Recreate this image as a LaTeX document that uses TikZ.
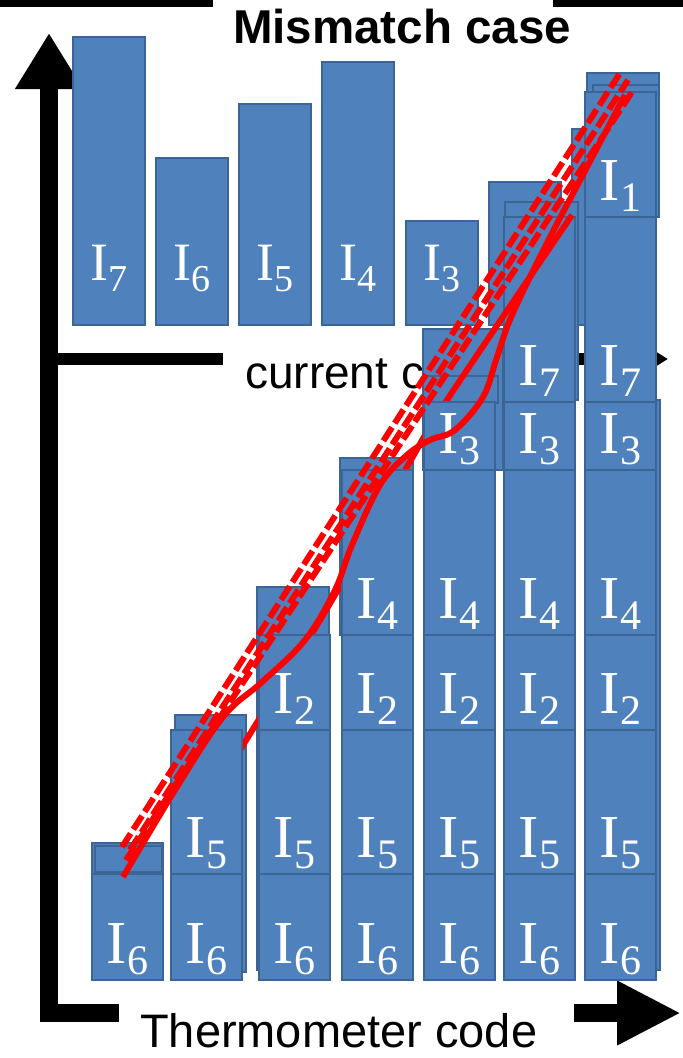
\documentclass[tikz,border=0pt]{standalone}
\usepackage{fontspec}
\setmainfont{Liberation Serif}
\setsansfont{Liberation Sans}
\usetikzlibrary{arrows.meta}
\definecolor{barfill}{HTML}{4F81BD}
\definecolor{barline}{HTML}{3A6595}
\definecolor{trace}{HTML}{FF0000}
\newcommand{\lowI}[1]{I\raisebox{-11pt}{\fontsize{42}{42}\selectfont #1}}
\newcommand{\upI}[1]{I\raisebox{-11pt}{\fontsize{38}{38}\selectfont #1}}
% one thermometer column: #1 column no., #2 left edge, #3 number of cells
\newcommand{\thermo}[3]{%
  \foreach \k/\i/\yt/\yb in {1/6/874/980,2/5/730/874,3/2/635/730,4/4/470/635,5/3/402/470,6/7/217/402,7/1/92/217}{%
    \ifnum\k>#3\relax\else
      \draw[bar] (#2,\yt) rectangle ({#2+71},\yb);
      \node[lowlbl] (t#1-\i) at ({#2+35.5},{\yb-17}) {\lowI{\i}};
    \fi}}
\tikzset{
  bar/.style={draw=barline, fill=barfill, line width=1.2pt},
  lowlbl/.style={text=white, anchor=base, inner sep=0pt, font=\fontsize{61}{61}\selectfont},
  uplbl/.style={text=white, anchor=base, inner sep=0pt, font=\fontsize{54}{54}\selectfont},
  axisline/.style={line width=18pt, draw=black},
  axlbl/.style={font=\sffamily\fontsize{46}{46}\selectfont, anchor=base west, inner sep=0pt},
  trace/.style={draw=trace, line width=6pt},
  tracedash/.style={trace, line width=6pt, dash pattern=on 16pt off 5pt},
}
\begin{document}
\begin{tikzpicture}[x=1pt,y=-1pt]
  \useasboundingbox (0,0) rectangle (683,1058);
  % frame remnants along the top edge
  \draw[line width=7pt] (0,3.5) -- (213,3.5);
  \draw[line width=7pt] (553,3.5) -- (683,3.5);
  \node[font=\sffamily\bfseries\fontsize{47.5}{50}\selectfont, anchor=base, inner sep=0pt] (title) at (402,43) {Mismatch case};

  % axes
  \coordinate (ytip) at (49,33);
  \coordinate (origin) at (49,1013);
  \coordinate (xgapl) at (119,1013);
  \coordinate (xgapr) at (574,1013);
  \coordinate (xtip) at (681,1013);
  \coordinate (cur0) at (49,359);
  \coordinate (curgap) at (223,359);
  \coordinate (curback) at (505,359);
  \coordinate (curtip) at (668,359);
  \draw[axisline, arrows={Triangle[length=56pt,width=64pt]-}] (ytip) -- (origin) -- (xgapl);
  \draw[axisline, -{Triangle[length=64pt,width=60pt]}] (xgapr) -- (xtip);
  \draw[line width=12pt] (cur0) -- (curgap);
  \draw[line width=12pt, -{Triangle[length=24pt,width=28pt]}] (curback) -- (curtip);
  \node[axlbl] (curcode) at (245,388) {current code};
  \node[axlbl, font=\sffamily\fontsize{47}{47}\selectfont] (thermocode) at (140,1047) {Thermometer code};

  % current of each source
  \foreach \i/\xl/\yt in {7/73/37,6/156/158,5/239/104,4/322/62,3/406/221,2/489/182,1/572/129}{
    \draw[bar] (\xl,\yt) rectangle ({\xl+72},325);
    \node[uplbl] (u\i) at ({\xl+36},280) {\upI{\i}};
  }

  % leftover copies behind the stacks
  \draw[bar] (92,843) rectangle (163,979);
  \draw[bar] (95,846) rectangle (162,872);
  \draw[bar] (175,715) rectangle (246,972);
  \draw[bar] (257,587) rectangle (329,970);
  \draw[bar] (340,458) rectangle (413,635);
  \draw[bar] (423,329) rectangle (503,470);
  \draw[bar] (423,376) rectangle (498,403);
  \draw[bar] (505,202) rectangle (578,400);
  \draw[bar] (587,73) rectangle (659,217);
  \draw[bar] (593,85) rectangle (659,217);
  \draw[bar] (590,400) rectangle (660,970);

  \thermo{6}{504}{6}
  \thermo{7}{585}{7}
  \draw[trace] plot[smooth] coordinates {(215,790) (253,729) (332,600) (407,467) (447,400) (572,215)};
  \thermo{1}{92}{1}
  \thermo{2}{171}{2}
  \thermo{3}{259}{3}
  \thermo{4}{342}{4}
  \thermo{5}{424}{5}

  % transfer curves
  \draw[tracedash] (122,847) -- (622,70);
  \draw[tracedash] (130,850) -- (628,80);
  \draw[tracedash] (126,860) -- (632,92);
  \draw[trace] plot[smooth, tension=0.6] coordinates {(123,877) (175,790) (223,717) (262,682) (305,640) (335,590) (352,545) (380,485) (407,455) (430,440) (455,430) (483,397) (497,357) (512,315) (547,243) (587,167) (625,95)};
\end{tikzpicture}
\end{document}
